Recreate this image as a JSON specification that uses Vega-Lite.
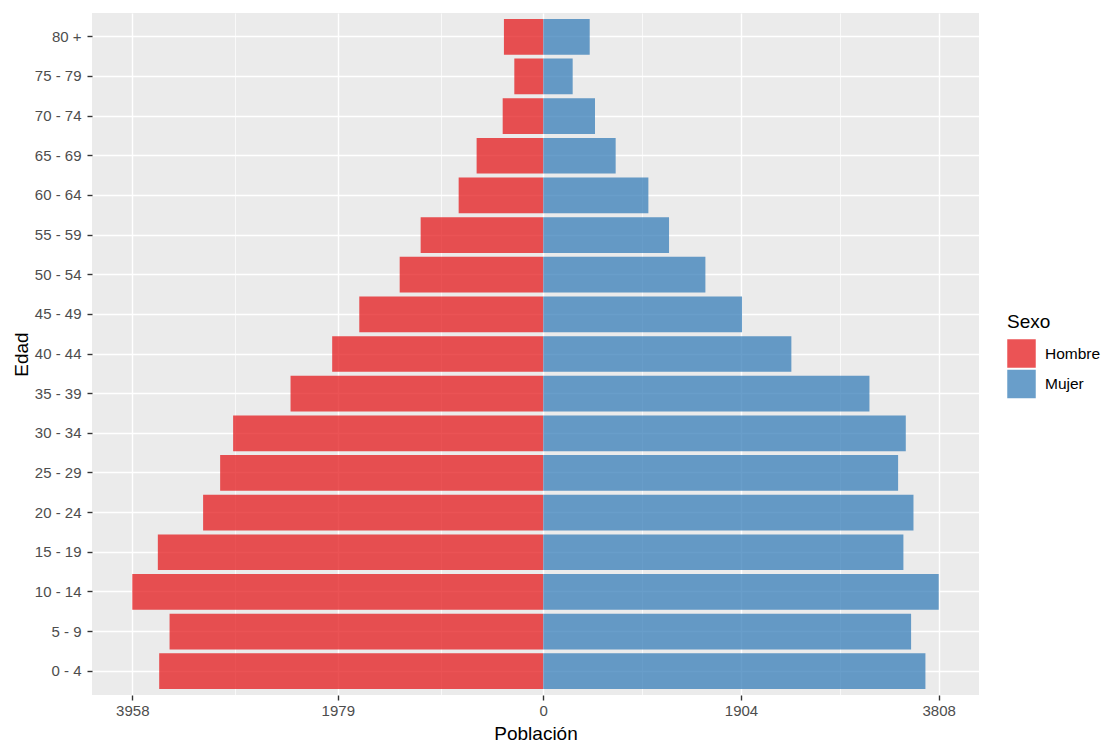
{
  "$schema": "https://vega.github.io/schema/vega-lite/v6.json",
  "width": 887,
  "height": 682,
  "autosize": {"type": "none"},
  "padding": {"left": 92, "top": 13, "right": 127, "bottom": 47},
  "background": "white",
  "config": {
    "font": "Liberation Sans",
    "view": {"fill": "#EBEBEB", "stroke": null}
  },
  "data": {
    "values": [
      {"Edad": "0 - 4", "Sexo": "Hombre", "Poblacion": -3699},
      {"Edad": "5 - 9", "Sexo": "Hombre", "Poblacion": -3599},
      {"Edad": "10 - 14", "Sexo": "Hombre", "Poblacion": -3958},
      {"Edad": "15 - 19", "Sexo": "Hombre", "Poblacion": -3712},
      {"Edad": "20 - 24", "Sexo": "Hombre", "Poblacion": -3276},
      {"Edad": "25 - 29", "Sexo": "Hombre", "Poblacion": -3112},
      {"Edad": "30 - 34", "Sexo": "Hombre", "Poblacion": -2987},
      {"Edad": "35 - 39", "Sexo": "Hombre", "Poblacion": -2434},
      {"Edad": "40 - 44", "Sexo": "Hombre", "Poblacion": -2033},
      {"Edad": "45 - 49", "Sexo": "Hombre", "Poblacion": -1772},
      {"Edad": "50 - 54", "Sexo": "Hombre", "Poblacion": -1383},
      {"Edad": "55 - 59", "Sexo": "Hombre", "Poblacion": -1181},
      {"Edad": "60 - 64", "Sexo": "Hombre", "Poblacion": -815},
      {"Edad": "65 - 69", "Sexo": "Hombre", "Poblacion": -642},
      {"Edad": "70 - 74", "Sexo": "Hombre", "Poblacion": -391},
      {"Edad": "75 - 79", "Sexo": "Hombre", "Poblacion": -279},
      {"Edad": "80 +", "Sexo": "Hombre", "Poblacion": -379},
      {"Edad": "0 - 4", "Sexo": "Mujer", "Poblacion": 3680},
      {"Edad": "5 - 9", "Sexo": "Mujer", "Poblacion": 3542},
      {"Edad": "10 - 14", "Sexo": "Mujer", "Poblacion": 3808},
      {"Edad": "15 - 19", "Sexo": "Mujer", "Poblacion": 3468},
      {"Edad": "20 - 24", "Sexo": "Mujer", "Poblacion": 3565},
      {"Edad": "25 - 29", "Sexo": "Mujer", "Poblacion": 3417},
      {"Edad": "30 - 34", "Sexo": "Mujer", "Poblacion": 3491},
      {"Edad": "35 - 39", "Sexo": "Mujer", "Poblacion": 3141},
      {"Edad": "40 - 44", "Sexo": "Mujer", "Poblacion": 2389},
      {"Edad": "45 - 49", "Sexo": "Mujer", "Poblacion": 1914},
      {"Edad": "50 - 54", "Sexo": "Mujer", "Poblacion": 1561},
      {"Edad": "55 - 59", "Sexo": "Mujer", "Poblacion": 1211},
      {"Edad": "60 - 64", "Sexo": "Mujer", "Poblacion": 1012},
      {"Edad": "65 - 69", "Sexo": "Mujer", "Poblacion": 697},
      {"Edad": "70 - 74", "Sexo": "Mujer", "Poblacion": 498},
      {"Edad": "75 - 79", "Sexo": "Mujer", "Poblacion": 283},
      {"Edad": "80 +", "Sexo": "Mujer", "Poblacion": 447}
    ]
  },
  "mark": {"type": "bar", "opacity": 0.75},
  "encoding": {
    "x": {
      "field": "Poblacion",
      "type": "quantitative",
      "stack": null,
      "scale": {"domain": [-4346, 4196], "nice": false, "zero": false},
      "axis": {
        "title": "Población",
        "titleFontSize": 19,
        "titleFontWeight": "normal",
        "titleColor": "black",
        "titlePadding": 6,
        "values": [-3958, -2968.5, -1979, -989.5, 0, 952, 1904, 2856, 3808],
        "labelExpr": "indexof([-3958, -1979, 0, 1904, 3808], datum.value) >= 0 ? '' + abs(datum.value) : ''",
        "labelOverlap": false,
        "labelFontSize": 15,
        "labelColor": "#4D4D4D",
        "labelPadding": 3,
        "labelFlush": false,
        "domain": false,
        "tickSize": 5,
        "tickWidth": 1.4,
        "tickColor": "#333333",
        "tickOpacity": {"condition": {"test": "indexof([-3958, -1979, 0, 1904, 3808], datum.value) >= 0", "value": 1}, "value": 0},
        "grid": true,
        "gridColor": "white",
        "gridWidth": {"condition": {"test": "indexof([-3958, -1979, 0, 1904, 3808], datum.value) >= 0", "value": 1.4}, "value": 0.7}
      }
    },
    "y": {
      "field": "Edad",
      "type": "nominal",
      "sort": ["80 +", "75 - 79", "70 - 74", "65 - 69", "60 - 64", "55 - 59", "50 - 54", "45 - 49", "40 - 44", "35 - 39", "30 - 34", "25 - 29", "20 - 24", "15 - 19", "10 - 14", "5 - 9", "0 - 4"],
      "scale": {"paddingInner": 0.1, "paddingOuter": 0.15},
      "axis": {
        "title": "Edad",
        "titleFontSize": 19,
        "titleFontWeight": "normal",
        "titleColor": "black",
        "titlePadding": 3,
        "labelFontSize": 15,
        "labelColor": "#4D4D4D",
        "labelPadding": 6,
        "domain": false,
        "tickSize": 5,
        "tickWidth": 1.4,
        "tickColor": "#333333",
        "grid": true,
        "gridColor": "white",
        "gridWidth": 1.4,
        "bandPosition": 0.5
      }
    },
    "color": {
      "field": "Sexo",
      "type": "nominal",
      "scale": {"domain": ["Hombre", "Mujer"], "range": ["#E41A1C", "#377EB8"]},
      "legend": {
        "title": "Sexo",
        "orient": "none",
        "legendX": 915,
        "legendY": 300,
        "padding": 0,
        "titleFontSize": 19,
        "titleFontWeight": "normal",
        "titleColor": "black",
        "titlePadding": 7,
        "labelFontSize": 15.5,
        "labelColor": "black",
        "labelOffset": 9,
        "symbolType": "square",
        "symbolSize": 812,
        "symbolStrokeWidth": 0,
        "symbolOpacity": 0.75,
        "rowPadding": 1.5
      }
    }
  }
}
